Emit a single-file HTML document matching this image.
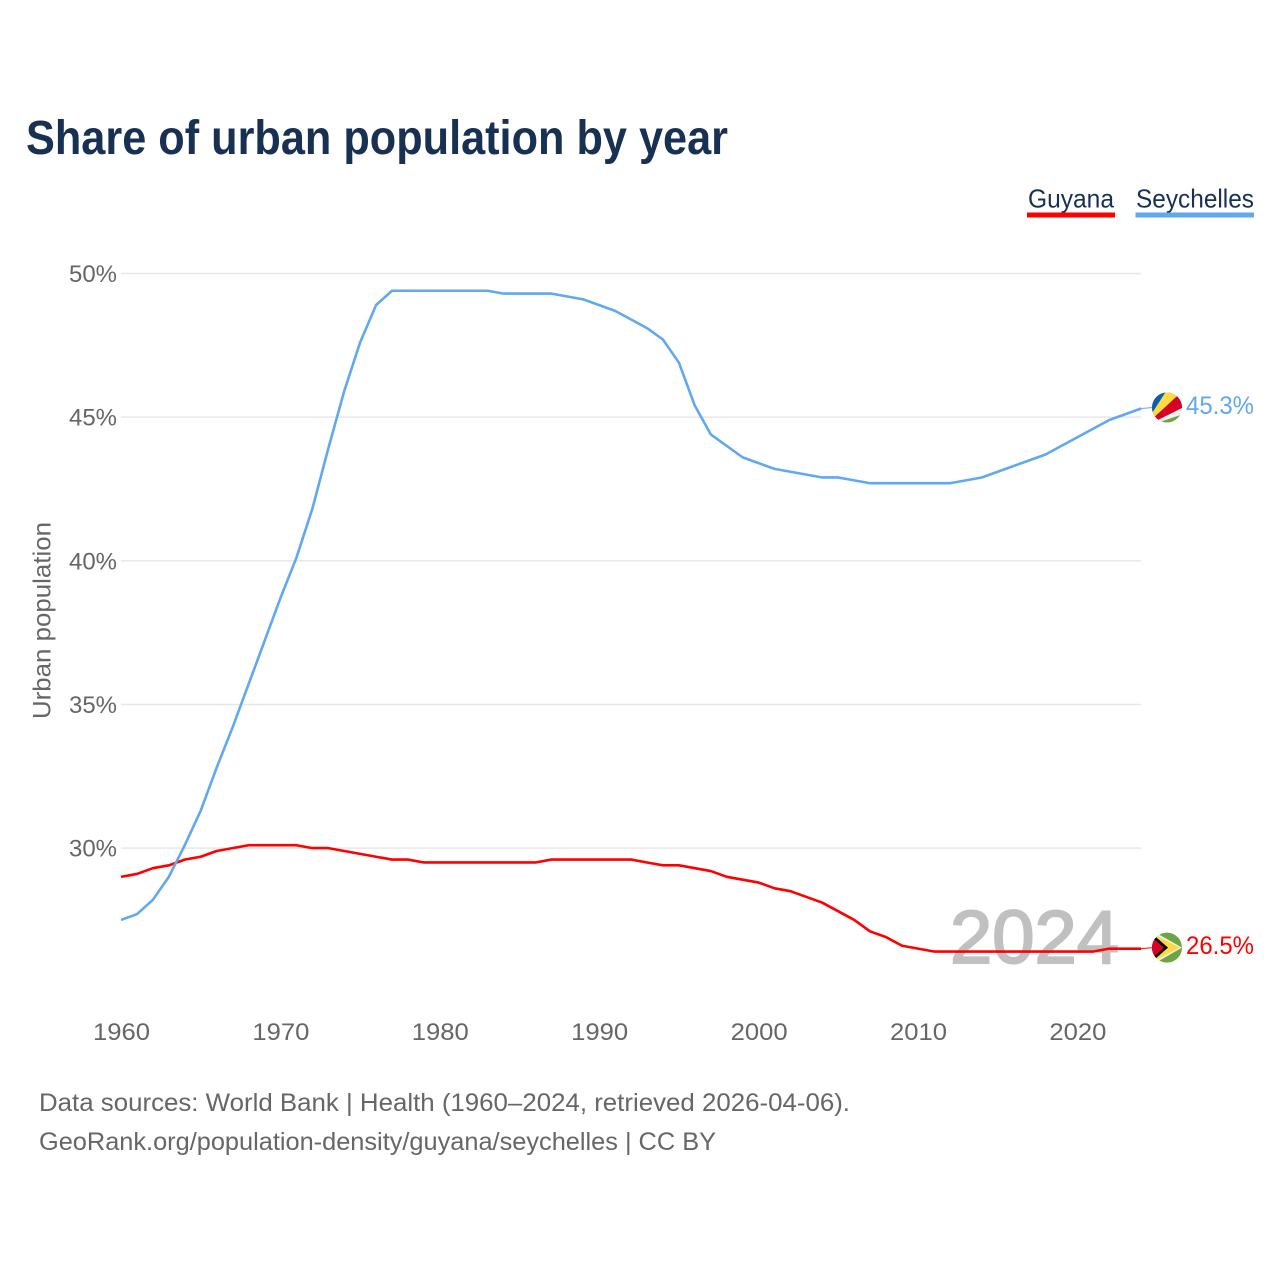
<!DOCTYPE html>
<html>
<head>
<meta charset="utf-8">
<title>Share of urban population by year</title>
<style>
html,body{margin:0;padding:0;background:#fff}
svg{display:block}
text{font-family:"Liberation Sans",sans-serif}
</style>
</head>
<body>
<svg id="chart" xmlns="http://www.w3.org/2000/svg" width="1280" height="1280" viewBox="0 0 1280 1280">
<defs>
<clipPath id="flag-clip"><circle cx="0" cy="0" r="15"/></clipPath>
</defs>
<rect width="1280" height="1280" fill="#fff"/>
<text x="26" y="154" font-size="48" font-weight="700" fill="#183153" textLength="702" lengthAdjust="spacingAndGlyphs">Share of urban population by year</text>
<g>
<g>
<text x="1028" y="207.5" font-size="26" fill="#183153" textLength="86" lengthAdjust="spacingAndGlyphs">Guyana</text>
<rect x="1027" y="212.5" width="88" height="5" fill="#ff0000"/>
</g>
<g>
<text x="1136" y="207.5" font-size="26" fill="#183153" textLength="118" lengthAdjust="spacingAndGlyphs">Seychelles</text>
<rect x="1135.5" y="212.5" width="118.5" height="5" fill="#62a8ee"/>
</g>
</g>
<g id="grid"></g>
<g id="yticks"></g>
<g id="xticks"></g>
<text transform="translate(50.5,719) rotate(-90)" font-size="25" fill="#666" textLength="197" lengthAdjust="spacingAndGlyphs">Urban population</text>
<text x="950" y="963" font-size="75" font-weight="400" fill="#c0c0c0" stroke="#c0c0c0" stroke-width="2" textLength="169" lengthAdjust="spacingAndGlyphs">2024</text>
<g id="series"></g>
<g id="flag-seychelles">
<g clip-path="url(#flag-clip)">
<rect x="-20" y="-20" width="40" height="40" fill="#6da544"/>
<polygon points="-24,20 -24,-20 1.5,-20" fill="#0d5eaf"/>
<polygon points="-24,20 1.5,-20 19.5,-20" fill="#ffda44"/>
<polygon points="-24,20 19.5,-20 24,-20 24,-4" fill="#d80027"/>
<polygon points="-24,20 24,-4 24,4" fill="#f0f0f0"/>
</g>
</g>
<g id="flag-guyana">
<g clip-path="url(#flag-clip)">
<rect x="-20" y="-20" width="40" height="40" fill="#6da544"/>
<polygon points="-20,-20 15,0 -20,20" fill="#f0f0f0"/>
<polygon points="-20,-17 13,0 -20,17" fill="#ffda44"/>
<polygon points="-15,-14 1,0 -15,14" fill="#000"/>
<polygon points="-17,-12 -3,0 -17,12" fill="#d80027"/>
</g>
</g>
<g id="end-labels"></g>
<text x="39" y="1111" font-size="25" fill="#666" textLength="811" lengthAdjust="spacingAndGlyphs">Data sources: World Bank | Health (1960–2024, retrieved 2026-04-06).</text>
<text x="39" y="1150" font-size="25" fill="#666" textLength="677" lengthAdjust="spacingAndGlyphs">GeoRank.org/population-density/guyana/seychelles | CC BY</text>
</svg>
<script>
const startYear = 1960;
const yTickValues = [30, 35, 40, 45, 50];
const xTickValues = [1960, 1970, 1980, 1990, 2000, 2010, 2020];
const guyanaValues = [29.0,29.1,29.3,29.4,29.6,29.7,29.9,30.0,30.1,30.1,30.1,30.1,30.0,30.0,29.9,29.8,29.7,29.6,29.6,29.5,29.5,29.5,29.5,29.5,29.5,29.5,29.5,29.6,29.6,29.6,29.6,29.6,29.6,29.5,29.4,29.4,29.3,29.2,29.0,28.9,28.8,28.6,28.5,28.3,28.1,27.8,27.5,27.1,26.9,26.6,26.5,26.4,26.4,26.4,26.4,26.4,26.4,26.4,26.4,26.4,26.4,26.4,26.5,26.5,26.5];
const seychellesValues = [27.5,27.7,28.2,29.0,30.1,31.3,32.8,34.2,35.7,37.2,38.7,40.1,41.8,43.9,45.9,47.6,48.9,49.4,49.4,49.4,49.4,49.4,49.4,49.4,49.3,49.3,49.3,49.3,49.2,49.1,48.9,48.7,48.4,48.1,47.7,46.9,45.4,44.4,44.0,43.6,43.4,43.2,43.1,43.0,42.9,42.9,42.8,42.7,42.7,42.7,42.7,42.7,42.7,42.8,42.9,43.1,43.3,43.5,43.7,44.0,44.3,44.6,44.9,45.1,45.3];

const NS = 'http://www.w3.org/2000/svg';
function xScale(year) { return 121 + (year - 1960) * 15.94; }
function yScale(v) { return 273.5 + (50 - v) * 28.73; }
function make(tag, attrs, parent, txt) {
  const el = document.createElementNS(NS, tag);
  for (const k in attrs) el.setAttribute(k, attrs[k]);
  if (txt !== undefined) el.textContent = txt;
  parent.appendChild(el);
  return el;
}
const grid = document.getElementById('grid');
const yticks = document.getElementById('yticks');
const xticks = document.getElementById('xticks');
const series = document.getElementById('series');
const endLabels = document.getElementById('end-labels');

yTickValues.forEach(function (v) {
  const line = make('line', {x1: 121, x2: 1141, y1: yScale(v), y2: yScale(v), stroke: '#e8e8e8', 'stroke-width': 1.5}, grid);
  
  
  const t = make('text', {x: 69, y: yScale(v) + 8.5, 'font-size': 24, fill: '#666', textLength: 48, lengthAdjust: 'spacingAndGlyphs'}, yticks, v + '%');
  
  
});
xTickValues.forEach(function (y) {
  const t = make('text', {x: xScale(y) + 0.5, y: 1040, 'font-size': 24, fill: '#666', 'text-anchor': 'middle', textLength: 57, lengthAdjust: 'spacingAndGlyphs'}, xticks, String(y));
  
  
});
function pathFor(values) {
  return values.map(function (v, i) {
    return (i ? 'L' : 'M') + xScale(startYear + i).toFixed(2) + ' ' + yScale(v).toFixed(2);
  }).join(' ');
}
const guyanaLine = make('path', {d: pathFor(guyanaValues), fill: 'none', stroke: '#ff0000', 'stroke-width': 2.6, 'stroke-linejoin': 'round'}, series);


const seychellesLine = make('path', {d: pathFor(seychellesValues), fill: 'none', stroke: '#62a8ee', 'stroke-width': 2.6, 'stroke-linejoin': 'round'}, series);



function finish(values, flagId, color, name) {
  const last = values[values.length - 1];
  const lastX = xScale(startYear + values.length - 1);
  const cy = yScale(last) - 1;
  const conn = make('line', {x1: lastX, x2: 1153, y1: yScale(last), y2: cy, stroke: color, 'stroke-width': 1}, series);
  
  
  document.getElementById(flagId).setAttribute('transform', 'translate(1167,' + cy + ')');
  const t = make('text', {x: 1186, y: cy + 6.5, 'font-size': 25, fill: color, textLength: 68, lengthAdjust: 'spacingAndGlyphs'}, endLabels, last.toFixed(1) + '%');
  
  
}
finish(guyanaValues, 'flag-guyana', '#ff0000', 'guyana');
finish(seychellesValues, 'flag-seychelles', '#62a8ee', 'seychelles');
</script>
</body>
</html>
